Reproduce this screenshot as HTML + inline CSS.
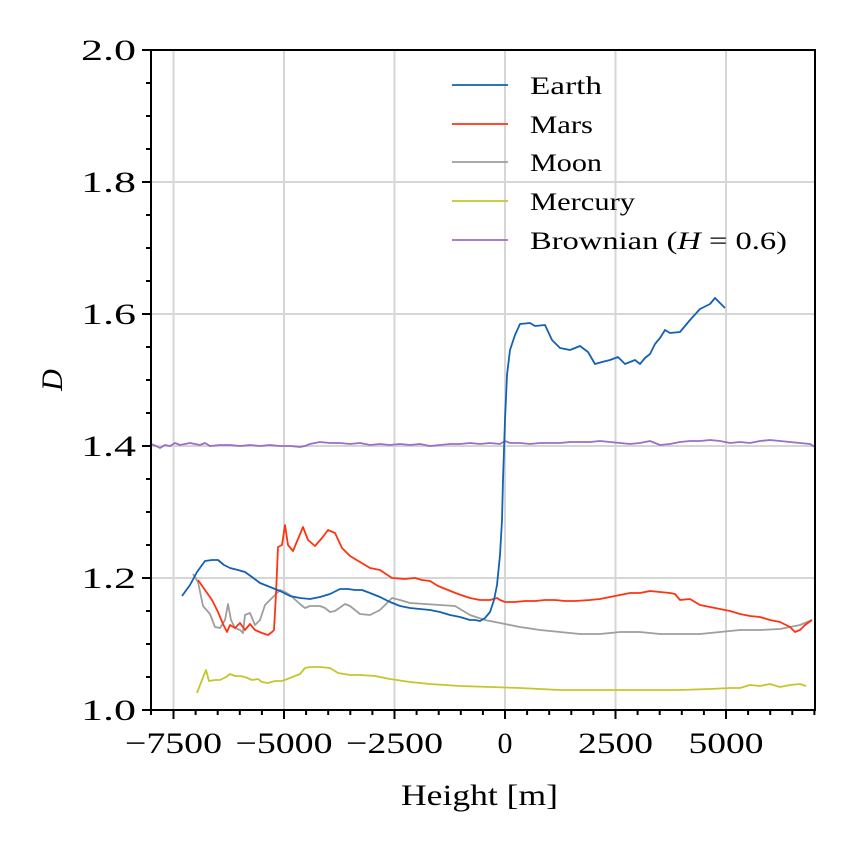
<!DOCTYPE html><html><head><style>body{margin:0;background:#fff}svg{display:block}text{font-family:"Liberation Serif","DejaVu Serif",serif;fill:#000}</style></head><body>
<svg width="851" height="851" viewBox="0 0 851 851" xmlns="http://www.w3.org/2000/svg">
<rect width="851" height="851" fill="#fff"/>
<g stroke="#d6d6d6" stroke-width="2">
<line x1="173.5" y1="50" x2="173.5" y2="710"/><line x1="284" y1="50" x2="284" y2="710"/><line x1="394.5" y1="50" x2="394.5" y2="710"/><line x1="505" y1="50" x2="505" y2="710"/><line x1="615.5" y1="50" x2="615.5" y2="710"/><line x1="726" y1="50" x2="726" y2="710"/>
<line x1="151" y1="182" x2="815" y2="182"/><line x1="151" y1="314" x2="815" y2="314"/><line x1="151" y1="446" x2="815" y2="446"/><line x1="151" y1="578" x2="815" y2="578"/>
</g>
<g fill="none" stroke-width="1.8" stroke-linejoin="round">
<polyline stroke="#9a6fc7" points="151,444 156,446 160,448 165,445 170,446 175,443 180,445 185,444 190,443 195,444 200,445 205,443 210,446 220,445 230,445 240,446 250,445 260,446 270,445 280,446 290,446 300,447 305,446 310,444 320,442 330,443 340,443 350,444 360,443 370,445 380,444 390,445 400,444 410,445 420,444 430,446 440,445 450,444 460,444 470,443 480,444 490,443 500,444 505,441 510,443 520,443 530,444 540,443 550,443 560,443 570,442 580,442 590,442 600,441 610,442 620,443 630,444 640,443 650,441 660,445 670,444 680,442 690,441 700,441 710,440 720,441 730,443 740,442 750,443 760,441 770,440 780,441 790,442 800,443 810,444 815,447"/>
<polyline stroke="#c6c62c" points="197,693 202,680 206,670 209,681 215,680 220,680 226,677 230,674 235,676 240,676 245,677 252,680 258,679 262,682 268,683 275,681 282,681 290,678 300,674 305,668 310,667 320,667 330,668 338,673 350,675 360,675 375,676 390,679 410,682 430,684 460,686 490,687 520,688 560,690 600,690 640,690 680,690 710,689 730,688 740,688 750,685 760,686 770,684 780,687 790,685 800,684 806,686"/>
<polyline stroke="#9e9e9e" points="193,574 198,582 203,606 210,614 215,627 220,628 225,620 228,604 231,620 235,628 240,630 243,633 245,615 250,613 255,625 260,620 265,605 272,598 280,590 285,592 290,595 300,604 305,608 310,606 320,606 325,608 330,612 335,611 345,604 350,606 360,614 370,615 380,610 392,598 400,600 410,603 425,604 440,605 455,606 470,615 485,620 500,623 510,625 520,627 540,630 560,632 580,634 600,634 620,632 640,632 660,634 680,634 700,634 720,632 740,630 760,630 780,629 800,625 812,620"/>
<polyline stroke="#ff3311" points="198,580 205,590 212,600 218,612 223,624 227,632 230,625 235,628 240,623 245,630 250,624 255,630 262,633 268,635 272,632 274,630 276,594 278,547 282,545 285,525 288,545 293,551 298,539 303,527 308,540 315,546 322,538 328,530 335,533 342,548 350,556 360,562 370,568 380,570 392,578 405,579 415,578 422,580 430,581 438,586 448,590 458,594 470,598 480,600 490,600 497,598 500,600 505,602 515,602 525,601 535,601 545,600 555,600 565,601 575,601 590,600 600,599 610,597 620,595 630,593 640,593 650,591 660,592 670,593 675,594 680,600 690,599 700,605 710,607 720,609 730,611 740,614 750,616 760,617 770,620 780,622 790,627 795,632 800,630 805,625 812,620"/>
<polyline stroke="#1261b5" points="182,596 190,585 197,572 205,561 212,560 218,560 224,565 230,568 238,570 245,572 252,577 260,583 270,587 280,591 290,596 300,598 310,599 320,597 330,594 340,589 348,589 355,590 362,590 370,593 380,597 390,602 400,606 410,608 420,609 430,610 440,612 450,615 460,617 470,620 475,620 480,621 485,618 490,612 494,600 497,585 500,555 502,520 503,480 505,420 507,375 510,350 515,335 520,324 530,323 535,326 545,325 552,340 560,348 570,350 580,346 588,352 595,364 602,362 610,360 618,357 625,364 630,362 635,360 640,364 645,358 650,354 655,344 660,338 665,330 670,333 680,332 690,320 700,309 710,304 715,298 720,303 725,308"/>
</g>
<rect x="151" y="50" width="664" height="660" fill="none" stroke="#000" stroke-width="2"/>
<g stroke="#000" stroke-width="2">
<line x1="173.5" y1="710" x2="173.5" y2="719"/><line x1="284" y1="710" x2="284" y2="719"/><line x1="394.5" y1="710" x2="394.5" y2="719"/><line x1="505" y1="710" x2="505" y2="719"/><line x1="615.5" y1="710" x2="615.5" y2="719"/><line x1="726" y1="710" x2="726" y2="719"/>
<line x1="151" y1="710" x2="151" y2="715"/><line x1="195.6" y1="710" x2="195.6" y2="715"/><line x1="217.7" y1="710" x2="217.7" y2="715"/><line x1="239.8" y1="710" x2="239.8" y2="715"/><line x1="261.9" y1="710" x2="261.9" y2="715"/><line x1="306.1" y1="710" x2="306.1" y2="715"/><line x1="328.2" y1="710" x2="328.2" y2="715"/><line x1="350.3" y1="710" x2="350.3" y2="715"/><line x1="372.4" y1="710" x2="372.4" y2="715"/><line x1="416.6" y1="710" x2="416.6" y2="715"/><line x1="438.7" y1="710" x2="438.7" y2="715"/><line x1="460.8" y1="710" x2="460.8" y2="715"/><line x1="482.9" y1="710" x2="482.9" y2="715"/><line x1="527.1" y1="710" x2="527.1" y2="715"/><line x1="549.2" y1="710" x2="549.2" y2="715"/><line x1="571.3" y1="710" x2="571.3" y2="715"/><line x1="593.4" y1="710" x2="593.4" y2="715"/><line x1="637.6" y1="710" x2="637.6" y2="715"/><line x1="659.7" y1="710" x2="659.7" y2="715"/><line x1="681.8" y1="710" x2="681.8" y2="715"/><line x1="703.9" y1="710" x2="703.9" y2="715"/><line x1="748.1" y1="710" x2="748.1" y2="715"/><line x1="770.2" y1="710" x2="770.2" y2="715"/><line x1="792.3" y1="710" x2="792.3" y2="715"/><line x1="814.4" y1="710" x2="814.4" y2="715"/>
<line x1="142" y1="50" x2="151" y2="50"/><line x1="142" y1="182" x2="151" y2="182"/><line x1="142" y1="314" x2="151" y2="314"/><line x1="142" y1="446" x2="151" y2="446"/><line x1="142" y1="578" x2="151" y2="578"/><line x1="142" y1="710" x2="151" y2="710"/>
<line x1="146" y1="83" x2="151" y2="83"/><line x1="146" y1="116" x2="151" y2="116"/><line x1="146" y1="149" x2="151" y2="149"/><line x1="146" y1="215" x2="151" y2="215"/><line x1="146" y1="248" x2="151" y2="248"/><line x1="146" y1="281" x2="151" y2="281"/><line x1="146" y1="347" x2="151" y2="347"/><line x1="146" y1="380" x2="151" y2="380"/><line x1="146" y1="413" x2="151" y2="413"/><line x1="146" y1="479" x2="151" y2="479"/><line x1="146" y1="512" x2="151" y2="512"/><line x1="146" y1="545" x2="151" y2="545"/><line x1="146" y1="611" x2="151" y2="611"/><line x1="146" y1="644" x2="151" y2="644"/><line x1="146" y1="677" x2="151" y2="677"/>
</g>
<g font-size="30">
<text x="81" y="60" textLength="55" lengthAdjust="spacingAndGlyphs">2.0</text><text x="81" y="192" textLength="55" lengthAdjust="spacingAndGlyphs">1.8</text><text x="81" y="324" textLength="55" lengthAdjust="spacingAndGlyphs">1.6</text><text x="81" y="456" textLength="55" lengthAdjust="spacingAndGlyphs">1.4</text><text x="81" y="588" textLength="55" lengthAdjust="spacingAndGlyphs">1.2</text><text x="81" y="720" textLength="55" lengthAdjust="spacingAndGlyphs">1.0</text>
</g>
<g font-size="30">
<text x="125" y="753" textLength="97" lengthAdjust="spacingAndGlyphs">−7500</text>
<text x="235.5" y="753" textLength="97" lengthAdjust="spacingAndGlyphs">−5000</text>
<text x="346" y="753" textLength="97" lengthAdjust="spacingAndGlyphs">−2500</text>
<text x="497.5" y="753" textLength="15" lengthAdjust="spacingAndGlyphs">0</text>
<text x="578" y="753" textLength="75" lengthAdjust="spacingAndGlyphs">2500</text>
<text x="688.5" y="753" textLength="75" lengthAdjust="spacingAndGlyphs">5000</text>
<text x="401" y="805" textLength="157" lengthAdjust="spacingAndGlyphs">Height [m]</text>
</g>
<text x="62" y="380" font-size="30" font-style="italic" transform="rotate(-90 62 380)" text-anchor="middle">D</text>
<g stroke-width="1.8">
<line x1="452" y1="85" x2="508" y2="85" stroke="#1261b5"/><line x1="452" y1="124" x2="508" y2="124" stroke="#ff3311"/><line x1="452" y1="162" x2="508" y2="162" stroke="#9e9e9e"/><line x1="452" y1="201" x2="508" y2="201" stroke="#c6c62c"/><line x1="452" y1="240" x2="508" y2="240" stroke="#9a6fc7"/>
</g>
<g font-size="25">
<text x="530" y="94" textLength="72" lengthAdjust="spacingAndGlyphs">Earth</text><text x="530" y="133" textLength="63" lengthAdjust="spacingAndGlyphs">Mars</text><text x="530" y="171" textLength="72" lengthAdjust="spacingAndGlyphs">Moon</text><text x="530" y="210" textLength="105" lengthAdjust="spacingAndGlyphs">Mercury</text><text x="530" y="249" textLength="257" lengthAdjust="spacingAndGlyphs">Brownian (<tspan font-style="italic">H</tspan> = 0.6)</text>
</g>
</svg></body></html>
